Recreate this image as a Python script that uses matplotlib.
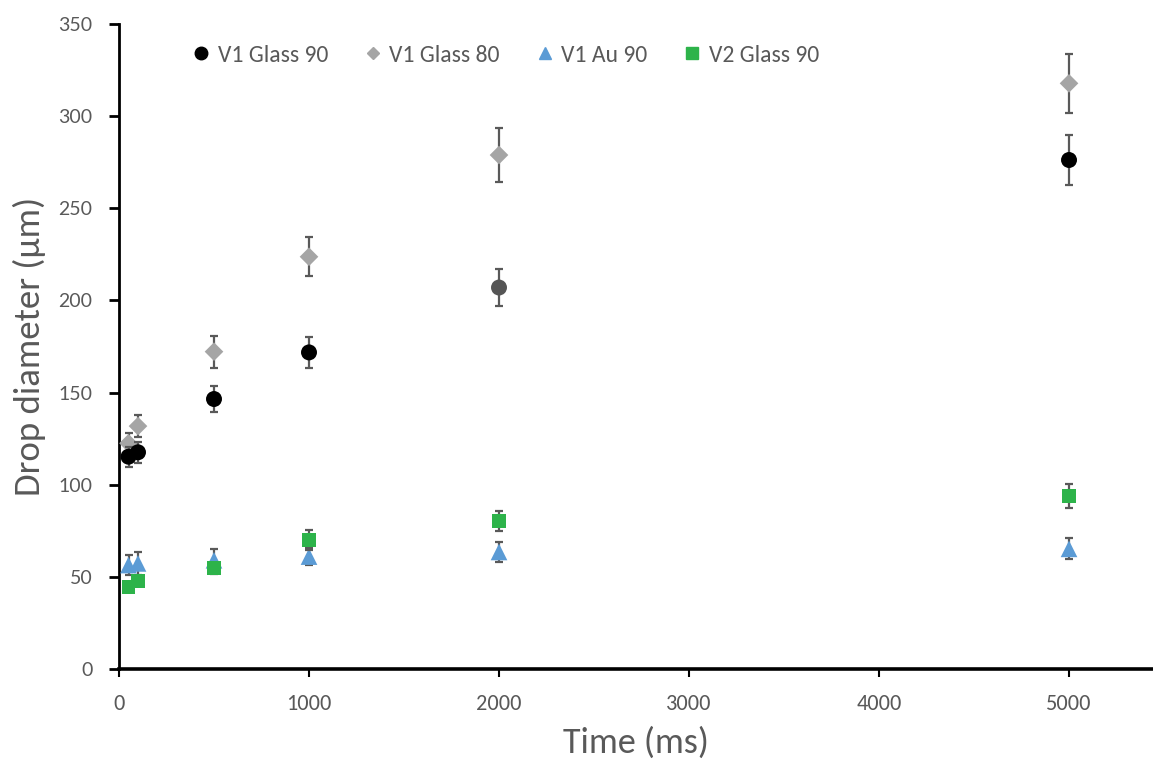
import matplotlib
matplotlib.use("Agg")
import matplotlib.pyplot as plt
from matplotlib.lines import Line2D
from matplotlib import font_manager as fm

# ---- data ----
time_ms = [50, 100, 500, 1000, 2000, 5000]

v1_glass90 = [115.2, 117.6, 146.5, 171.8, 207.0, 276.2]
v1_glass90_err = [5.4, 5.6, 7.0, 8.6, 10.0, 13.8]

v1_glass80 = [122.5, 131.8, 172.2, 223.7, 278.9, 317.8]
v1_glass80_err = [5.7, 6.0, 8.7, 10.7, 14.5, 15.9]

v1_au90 = [56.4, 57.3, 59.0, 61.0, 63.5, 65.2]
v1_au90_err = [5.5, 6.2, 6.0, 4.8, 5.5, 5.7]

v2_glass90 = [44.7, 47.7, 54.6, 70.0, 80.3, 93.9]
v2_glass90_err = [2.0, 2.0, 3.0, 5.2, 5.5, 6.5]

labels = ["V1 Glass 90", "V1 Glass 80", "V1 Au 90", "V2 Glass 90"]
x_ticks = [0, 1000, 2000, 3000, 4000, 5000]
y_ticks = [0, 50, 100, 150, 200, 250, 300, 350]

# ---- fonts ----
avail = {f.name for f in fm.fontManager.ttflist}
def pick(*names):
    for n in names:
        if n in avail:
            return n
    return "DejaVu Sans"
f_main = pick("Carlito", "Lato", "Open Sans")
f_ytick = pick("Lato", "Noto Sans", "DejaVu Sans")

TXT = "#595959"
ERR = "#595959"

fig = plt.figure(figsize=(11.53, 7.62), dpi=100)
ax = fig.add_axes([119/1153, 93/762, 1 - 119/1153, 645/762])

def series(y, err, marker, ms, colors, z):
    ax.errorbar(time_ms, y, yerr=err, fmt="none", ecolor=ERR, elinewidth=1.6,
                capsize=3.2, capthick=1.6, zorder=z)
    ax.scatter(time_ms, y, marker=marker, s=ms**2, c=colors, edgecolors="none", zorder=z + 0.5)

series(v1_glass80, v1_glass80_err, "D", 9.5, ["#A5A5A5"] * 6, 3)
series(v1_glass90, v1_glass90_err, "o", 11.5,
       ["#000000", "#000000", "#000000", "#000000", "#555555", "#000000"], 4)
series(v1_au90, v1_au90_err, "^", 12, ["#5B9BD5"] * 6, 5)
series(v2_glass90, v2_glass90_err, "s", 10, ["#2DB34A"] * 6, 6)

ax.set_xlim(0, 5442)
ax.set_ylim(0, 350)
ax.set_xticks(x_ticks)
ax.set_yticks(y_ticks)

for s in ["top", "right"]:
    ax.spines[s].set_visible(False)
ax.spines["left"].set_linewidth(2)
ax.spines["bottom"].set_linewidth(2.6)
ax.spines["left"].set_color("black")
ax.spines["bottom"].set_color("black")

ax.tick_params(axis="y", direction="out", length=7, width=2, color="black",
               pad=12, labelsize=14, labelcolor=TXT)
ax.tick_params(axis="x", direction="out", length=6, width=1.5, color="black",
               pad=12, labelsize=16, labelcolor=TXT)
for t in ax.get_yticklabels():
    t.set_fontfamily(f_ytick)
for t in ax.get_xticklabels():
    t.set_fontfamily(f_main)

ax.set_xlabel("Time (ms)", fontsize=26, color=TXT, fontfamily=f_main, labelpad=9)
ax.set_ylabel("Drop diameter (µm)", fontsize=26.5, color=TXT, fontfamily=f_main, labelpad=9)

handles = [
    Line2D([], [], ls="none", marker="o", ms=9, color="#000000"),
    Line2D([], [], ls="none", marker="D", ms=6.5, color="#A5A5A5"),
    Line2D([], [], ls="none", marker="^", ms=9, color="#5B9BD5"),
    Line2D([], [], ls="none", marker="s", ms=8, color="#2DB34A"),
]
leg = fig.legend(handles, labels, loc="center", bbox_to_anchor=(506/1153, 1 - 55/762),
                 ncol=4, frameon=False, handlelength=0.7, handletextpad=0.35,
                 columnspacing=1.55, prop={"family": f_main, "size": 17})
for t in leg.get_texts():
    t.set_color(TXT)

fig.savefig("out.png", dpi=100, facecolor="white")
